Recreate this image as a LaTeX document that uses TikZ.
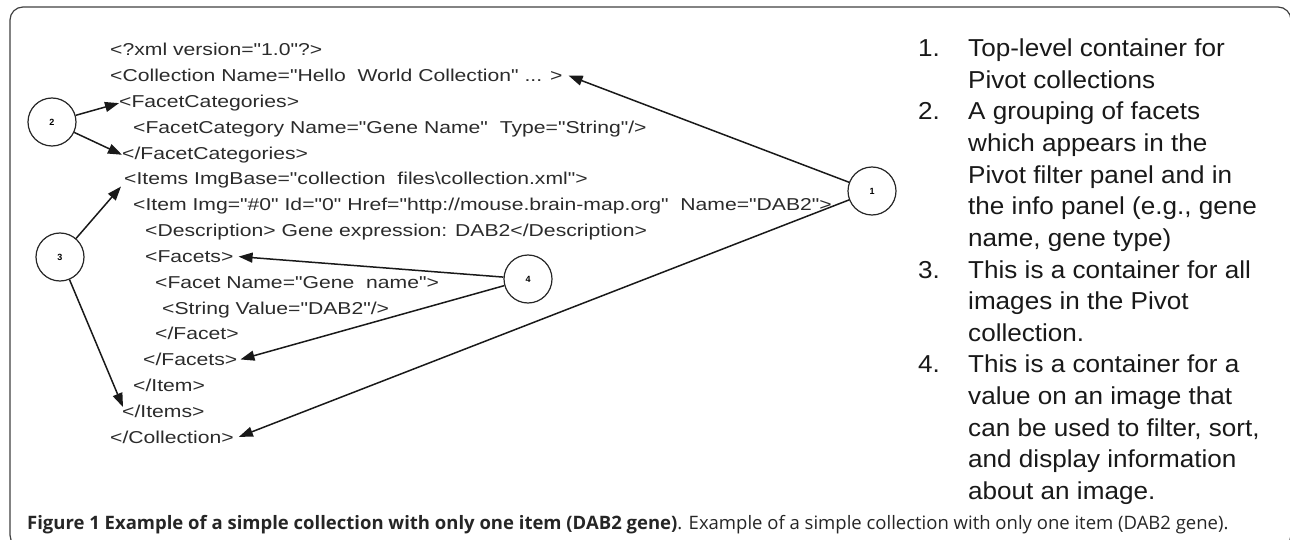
\documentclass[tikz,border=0pt]{standalone}
\usepackage{fontspec}
\setmainfont{Liberation Sans}
\newfontfamily\xmlfont{Liberation Sans}[FakeStretch=1.23]
\newfontfamily\notefont{Liberation Sans}[FakeStretch=1.065]
\newfontfamily\capfont{Open Sans}
\usetikzlibrary{arrows.meta}
\definecolor{ink}{HTML}{2B2B2B}

\begin{document}
\begin{tikzpicture}[x=1pt,y=-1pt,
	xml/.style={anchor=base west, inner sep=0pt, text=ink, font=\xmlfont\fontsize{17.2}{20}\selectfont},
	note/.style={anchor=base west, inner sep=0pt, text=black!90, font=\notefont\fontsize{24.5}{31.6}\selectfont},
	ball/.style={circle, draw=black!85, line width=1.2pt, minimum size=48pt, inner sep=0pt, font=\bfseries\fontsize{9}{9}\selectfont},
	arr/.style={-{Triangle[length=14pt,width=10pt]}, line width=1.5pt, draw=black!90},
	capt/.style={anchor=base west, inner sep=0pt, text=black!85, font=\capfont\fontsize{18.5}{22}\selectfont}]
	\useasboundingbox (0,0) rectangle (1290,540);
	\draw[black!75, line width=1.2pt, rounded corners=13pt] (10,7) rectangle (1291,548);
	%% xml lines
	\node[xml] (x1) at (110,56) {<?xml version="1.0"?>};
	\node[xml] (x2) at (110,81.8) {<Collection Name="Hello\ \ World Collection" ... >};
	\node[xml] (x3) at (119,107.6) {<FacetCategories>};
	\node[xml] (x4) at (133,133.4) {<FacetCategory Name="Gene Name"\ \ Type="String"/>};
	\node[xml] (x5) at (122,159.2) {</FacetCategories>};
	\node[xml] (x6) at (124,185) {<Items ImgBase="collection\ \ files\textbackslash collection.xml">};
	\node[xml] (x7) at (133,210.8) {<Item Img="\#0" Id="0" Href="http://mouse.brain-map.org"\ \ Name="DAB2">};
	\node[xml] (x8) at (145,236.6) {<Description> Gene expression: DAB2</Description>};
	\node[xml] (x9) at (145,262.4) {<Facets>};
	\node[xml] (x10) at (155,288.2) {<Facet Name="Gene\ \ name">};
	\node[xml] (x11) at (162,314) {<String Value="DAB2"/>};
	\node[xml] (x12) at (155,339.8) {</Facet>};
	\node[xml] (x13) at (143,365.6) {</Facets>};
	\node[xml] (x14) at (133,391.4) {</Item>};
	\node[xml] (x15) at (122,417.2) {</Items>};
	\node[xml] (x16) at (110,443) {</Collection>};
	% circles
	\node[ball] (c1) at (872,191) {1};
	\node[ball] (c2) at (52,122) {2};
	\node[ball] (c3) at (60,257) {3};
	\node[ball] (c4) at (528,279) {4};
	% arrows
	\draw[arr] (c1) -- ([xshift=6pt]x2.east);
	\draw[arr] (c1) -- ([xshift=5pt]x16.east);
	\draw[arr] (c2) -- (x3.west);
	\draw[arr] (c2) -- (x5.west);
	\draw[arr] (c3) -- ([xshift=-3pt,yshift=-6pt]x6.west);
	\draw[arr] (c3) -- ([xshift=1pt,yshift=4pt]x15.west);
	\draw[arr] (c4) -- ([xshift=5pt]x9.east);
	\draw[arr] (c4) -- ([xshift=3pt]x13.east);
	%% notes
	\node[note] (m1) at (918,56.8) {1.};
	\node[note] (n1) at (968,56.8) {\begin{tabular}[t]{@{}l@{}}Top-level container for\\Pivot collections\end{tabular}};
	\node[note] (m2) at (918,120) {2.};
	\node[note] (n2) at (968,120) {\begin{tabular}[t]{@{}l@{}}A grouping of facets\\which appears in the\\Pivot filter panel and in\\the info panel (e.g., gene\\name, gene type)\end{tabular}};
	\node[note] (m3) at (918,278) {3.};
	\node[note] (n3) at (968,278) {\begin{tabular}[t]{@{}l@{}}This is a container for all\\images in the Pivot\\collection.\end{tabular}};
	\node[note] (m4) at (918,372.8) {4.};
	\node[note] (n4) at (968,372.8) {\begin{tabular}[t]{@{}l@{}}This is a container for a\\value on an image that\\can be used to filter, sort,\\and display information\\about an image.\end{tabular}};
	% caption
	\node[capt] (fig) at (27,529) {\textbf{Figure 1 Example of a simple collection with only one item (DAB2 gene)}. Example of a simple collection with only one item (DAB2 gene).};
\end{tikzpicture}
\end{document}
